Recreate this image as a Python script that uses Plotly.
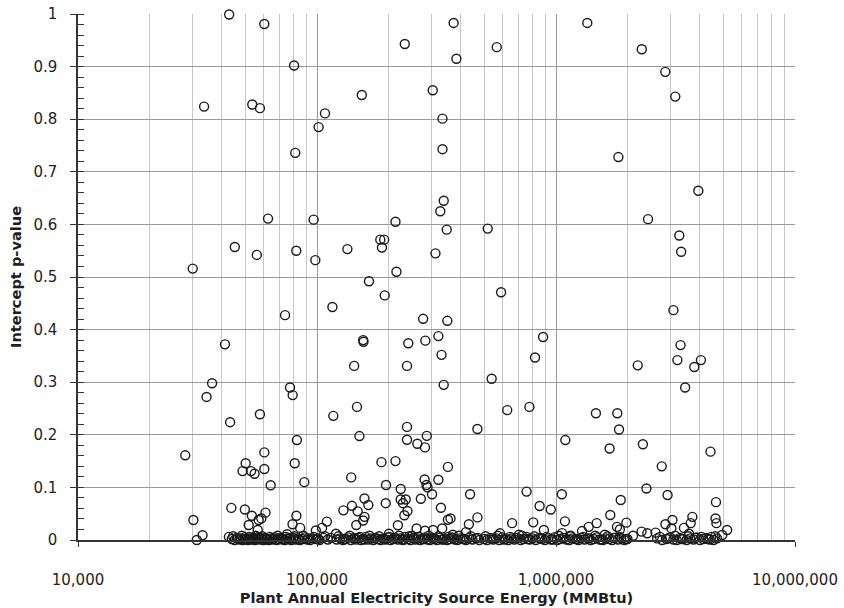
import plotly.graph_objects as go

# ---- scattered points (energy in MMBtu, intercept p-value) ----
x_pts = [
    42900, 60200, 80200, 33700, 53600, 57700, 108000, 101600, 81100, 62400,
    96800, 45300, 56000, 81900, 98400, 30200,
    373000, 233000, 565000, 383000, 154000, 305000, 335000, 335000, 339000, 328000,
    213000, 349000, 518000, 184000, 191000, 187000, 134000, 313000, 215000, 165000,
    1352000, 2285000, 2866000, 3156000, 1824000, 3940000, 2427000, 3280000, 3340000,
    73500, 41200, 36400, 34500, 77100, 79100, 57700, 43300, 82400, 28100,
    60200, 50300, 80700, 48800, 53000, 54800, 60200, 64000, 88500, 43800,
    49900, 53400, 60900, 58500, 57000, 51800, 82000, 79000, 85000, 30400,
    33200, 31400, 42800, 98900, 105000, 110000, 75000,
    192000, 116000, 589000, 278000, 351000, 156000, 156500, 241000, 284000, 322000,
    332000, 883000, 817000, 143000, 238000, 538000, 339000, 147000, 117000, 625000,
    774000, 150500, 238000, 238000, 263000, 288000, 283000, 469000, 186000, 213000,
    353000, 139000, 194500, 224000, 282000, 287000, 290000, 322000, 303000, 437000,
    272000, 158000, 164000, 140000, 129000, 148000, 194000, 224000, 235000, 229000,
    239000, 232000, 158000, 156000, 146000, 330000, 353000, 362000, 469000, 432000,
    655000, 753000, 854000, 951000, 803000, 890000, 218000, 261000, 283000, 306000,
    334000, 583000,
    3100000, 3320000, 3220000, 4040000, 3790000, 2198000, 3470000, 1469000, 1805000, 1835000,
    1094000, 1676000, 2310000, 4430000, 2770000, 2390000, 1058000, 2930000, 1866000, 4670000,
    1687000, 1090000, 1480000, 1370000, 1285000, 1800000, 1970000, 1850000, 1060000, 2280000,
    2410000, 2610000, 2870000, 3070000, 3040000, 3720000, 3660000, 3430000, 4650000, 4690000,
    5200000, 4960000, 4470000,
    56500, 120000, 200000, 250000, 370000, 420000, 700000, 1150000, 1600000, 2100000,
    3600000,
]
y_pts = [
    0.999, 0.981, 0.902, 0.824, 0.828, 0.821, 0.811, 0.785, 0.736, 0.611,
    0.609, 0.557, 0.542, 0.550, 0.532, 0.516,
    0.983, 0.943, 0.937, 0.915, 0.846, 0.855, 0.801, 0.743, 0.645, 0.625,
    0.605, 0.590, 0.592, 0.571, 0.571, 0.556, 0.553, 0.545, 0.510, 0.492,
    0.983, 0.933, 0.890, 0.843, 0.728, 0.664, 0.610, 0.579, 0.548,
    0.4275, 0.372, 0.298, 0.272, 0.290, 0.2755, 0.239, 0.224, 0.190, 0.161,
    0.1665, 0.146, 0.146, 0.131, 0.131, 0.126, 0.135, 0.104, 0.110, 0.061,
    0.058, 0.046, 0.052, 0.041, 0.038, 0.0285, 0.046, 0.030, 0.023, 0.038,
    0.009, 0.000, 0.006, 0.018, 0.023, 0.035, 0.011,
    0.465, 0.443, 0.471, 0.4205, 0.4167, 0.380, 0.377, 0.374, 0.379, 0.3876,
    0.352, 0.386, 0.347, 0.331, 0.331, 0.3066, 0.295, 0.253, 0.236, 0.247,
    0.253, 0.1976, 0.215, 0.1906, 0.183, 0.198, 0.176, 0.211, 0.148, 0.150,
    0.139, 0.119, 0.1045, 0.097, 0.115, 0.1045, 0.100, 0.1146, 0.087, 0.087,
    0.0785, 0.079, 0.0665, 0.065, 0.0564, 0.0545, 0.070, 0.077, 0.077, 0.070,
    0.055, 0.047, 0.044, 0.037, 0.0285, 0.0614, 0.0386, 0.041, 0.043, 0.030,
    0.032, 0.092, 0.0646, 0.058, 0.0336, 0.019, 0.028, 0.022, 0.0177, 0.019,
    0.022, 0.0127,
    0.437, 0.3705, 0.342, 0.342, 0.329, 0.332, 0.290, 0.241, 0.241, 0.210,
    0.190, 0.174, 0.182, 0.168, 0.140, 0.098, 0.087, 0.0855, 0.076, 0.072,
    0.0475, 0.0355, 0.032, 0.025, 0.017, 0.025, 0.033, 0.020, 0.013, 0.016,
    0.0127, 0.014, 0.030, 0.038, 0.022, 0.044, 0.032, 0.023, 0.041, 0.032,
    0.019, 0.0095, 0.006,
    0.019, 0.012, 0.012, 0.008, 0.010, 0.015, 0.010, 0.008, 0.010, 0.008,
    0.012,
]

# ---- points lying essentially on p = 0 ----
x_base = [
    44000, 45200, 46100, 47300, 48000, 48900, 49800, 50600, 51500, 52300,
    53100, 54000, 55000, 55800, 56700, 57600, 58500, 59600, 60700, 61800,
    62900, 64100, 65300, 66600, 67900, 69300, 70600, 72000, 73400, 74900,
    76400, 78000, 79600, 81300, 83000, 84800, 86700, 88800, 91000, 93500,
    96000, 99000, 102500, 106500, 111000,
    121000, 125000, 128500, 132000, 135000, 138500, 142000, 145500, 149000, 152500,
    156000, 160000, 164000, 168000, 172000, 176000, 180000, 184500, 189000, 193500,
    198000, 203000, 208000, 213000, 218000, 223000, 228500, 234000, 240000, 246000,
    252000, 258000, 264000, 270000, 276500, 283000, 290000, 297000, 304000, 311000,
    318000, 326000, 334000, 342000, 350000, 359000, 368000, 377000, 387000, 397000,
    408000, 420000, 433000, 447000, 462000, 478000,
    500000, 515000, 530000, 546000, 562000, 579000, 596000, 614000, 632000, 651000,
    670000, 690000, 711000, 732000, 754000, 776000, 799000, 823000, 848000, 873000,
    899000, 926000, 954000, 982000, 1011000, 1041000, 1072000, 1104000, 1137000, 1171000,
    1206000, 1242000, 1279000, 1317000, 1356000, 1397000, 1438000, 1481000, 1525000, 1571000,
    1618000, 1666000, 1716000, 1767000, 1820000, 1874000, 1930000, 1990000,
    2650000, 2780000, 2900000, 3000000, 3100000, 3200000, 3300000, 3400000, 3520000, 3640000,
    3760000, 3880000, 4000000, 4130000, 4260000, 4400000, 4560000, 4720000,
]
y_base = [
    0.002, 0.000, 0.004, 0.001, 0.003, 0.000, 0.005, 0.002, 0.000, 0.003,
    0.001, 0.004, 0.000, 0.002, 0.006, 0.001, 0.003, 0.000, 0.004, 0.002,
    0.000, 0.003, 0.001, 0.005, 0.000, 0.002, 0.004, 0.001, 0.000, 0.003,
    0.002, 0.000, 0.004, 0.001, 0.003, 0.000, 0.002, 0.005, 0.001, 0.000,
    0.003, 0.002, 0.000, 0.004, 0.001,
    0.001, 0.003, 0.000, 0.002, 0.005, 0.000, 0.003, 0.001, 0.004, 0.000,
    0.002, 0.006, 0.001, 0.003, 0.000, 0.004, 0.002, 0.000, 0.003, 0.001,
    0.005, 0.000, 0.002, 0.004, 0.001, 0.003, 0.000, 0.006, 0.002, 0.000,
    0.004, 0.001, 0.003, 0.000, 0.002, 0.005, 0.001, 0.000, 0.003, 0.002,
    0.000, 0.004, 0.001, 0.003, 0.000, 0.002, 0.005, 0.001, 0.000, 0.003,
    0.002, 0.000, 0.004, 0.001, 0.003, 0.000,
    0.002, 0.000, 0.004, 0.001, 0.003, 0.000, 0.005, 0.002, 0.000, 0.003,
    0.001, 0.004, 0.000, 0.002, 0.006, 0.001, 0.003, 0.000, 0.004, 0.002,
    0.000, 0.003, 0.001, 0.005, 0.000, 0.002, 0.004, 0.001, 0.000, 0.003,
    0.002, 0.000, 0.004, 0.001, 0.003, 0.000, 0.002, 0.005, 0.001, 0.000,
    0.003, 0.002, 0.000, 0.004, 0.001, 0.003, 0.000, 0.002,
    0.003, 0.000, 0.002, 0.005, 0.001, 0.000, 0.004, 0.002, 0.000, 0.003,
    0.001, 0.005, 0.000, 0.002, 0.004, 0.001, 0.000, 0.003,
]
x_base2 = [
    44600, 46600, 48500, 50200, 52000, 53600, 55400, 57200, 59000, 61200,
    63400, 65900, 68500, 71300, 74100, 77200, 80400, 84000, 87700, 92000,
    97000, 101000, 108000, 114000,
    123000, 130000, 137000, 144000, 151000, 158000, 166000, 174000, 182000, 191000,
    200500, 210500, 220500, 231000, 243000, 255000, 267000, 280000, 293500, 307500,
    322000, 338000, 354500, 372000, 392000, 414000, 440000, 470000,
    507000, 538000, 570000, 605000, 641000, 680000, 721000, 765000, 811000, 860000,
    912000, 968000, 1026000, 1088000, 1154000, 1224000, 1298000, 1376000, 1460000, 1548000,
    1642000, 1741000, 1847000, 1960000,
    2720000, 2950000, 3150000, 3350000, 3580000, 3820000, 4060000, 4330000, 4640000,
]
y_base2 = [
    0.007, 0.003, 0.008, 0.001, 0.006, 0.002, 0.008, 0.004, 0.007, 0.001,
    0.006, 0.003, 0.008, 0.002, 0.006, 0.004, 0.007, 0.001, 0.008, 0.003,
    0.006, 0.002, 0.007, 0.004,
    0.007, 0.002, 0.008, 0.004, 0.006, 0.001, 0.008, 0.003, 0.007, 0.002,
    0.006, 0.004, 0.008, 0.001, 0.007, 0.003, 0.006, 0.002, 0.008, 0.004,
    0.007, 0.001, 0.006, 0.003, 0.008, 0.002, 0.007, 0.004,
    0.007, 0.003, 0.008, 0.001, 0.006, 0.004, 0.008, 0.002, 0.007, 0.003,
    0.006, 0.001, 0.008, 0.004, 0.007, 0.002, 0.006, 0.003, 0.008, 0.001,
    0.007, 0.004, 0.006, 0.002,
    0.006, 0.003, 0.008, 0.002, 0.007, 0.004, 0.006, 0.002, 0.007,
]
assert len(x_pts) == len(y_pts)
assert len(x_base) == len(y_base)
assert len(x_base2) == len(y_base2)

x_tickvals = [1e4, 1e5, 1e6, 1e7]
x_ticktext = ["10,000", "100,000", "1,000,000", "10,000,000"]

FONT = "DejaVu Sans"
TXT = "#1e1e1e"
TICK_SIZE = 15
TITLE_SIZE = 14.6
marker = dict(symbol="circle-open", size=9, color="#1a1a1a", line=dict(width=1.4, color="#1a1a1a"))

fig = go.Figure()
fig.add_trace(go.Scatter(x=x_base + x_base2 + x_pts, y=y_base + y_base2 + y_pts, mode="markers",
                         marker=marker, cliponaxis=False, hoverinfo="x+y"))

fig.update_layout(
    width=844, height=608,
    margin=dict(l=78, r=49, t=14, b=68),
    paper_bgcolor="white", plot_bgcolor="white",
    showlegend=False,
    font=dict(family=FONT, size=TICK_SIZE, color=TXT),
)
fig.update_xaxes(
    type="log", range=[4, 7],
    tickvals=x_tickvals, ticktext=x_ticktext,
    tickfont=dict(family=FONT, size=TICK_SIZE, color=TXT),
    showgrid=True, gridcolor="#9a9a9a", gridwidth=1,
    minor=dict(dtick="D1", showgrid=True, gridcolor="#c6c6c6", gridwidth=1, ticks=""),
    showline=True, linecolor="#333", linewidth=1.5, mirror=False,
    ticks="outside", ticklen=5, tickcolor="#333",
    ticklabelstandoff=20,
    zeroline=False, automargin=False,
    title=dict(text="<b>Plant Annual Electricity Source Energy (MMBtu)</b>",
               font=dict(family=FONT, size=TITLE_SIZE, color=TXT), standoff=4),
)
fig.update_yaxes(
    range=[0, 1], dtick=0.1, tick0=0,
    tickfont=dict(family=FONT, size=TICK_SIZE, color=TXT),
    showgrid=True, gridcolor="#9a9a9a", gridwidth=1,
    showline=True, linecolor="#333", linewidth=1.5,
    ticks="outside", ticklen=6, tickcolor="#333",
    minor=dict(dtick=0.02, ticks="inside", ticklen=6, tickcolor="#333", showgrid=False),
    ticklabelstandoff=10,
    zeroline=False, automargin=False,
    title=dict(text="<b>Intercept p-value</b>",
               font=dict(family=FONT, size=TITLE_SIZE, color=TXT), standoff=8),
)

fig.write_html("out.html")
